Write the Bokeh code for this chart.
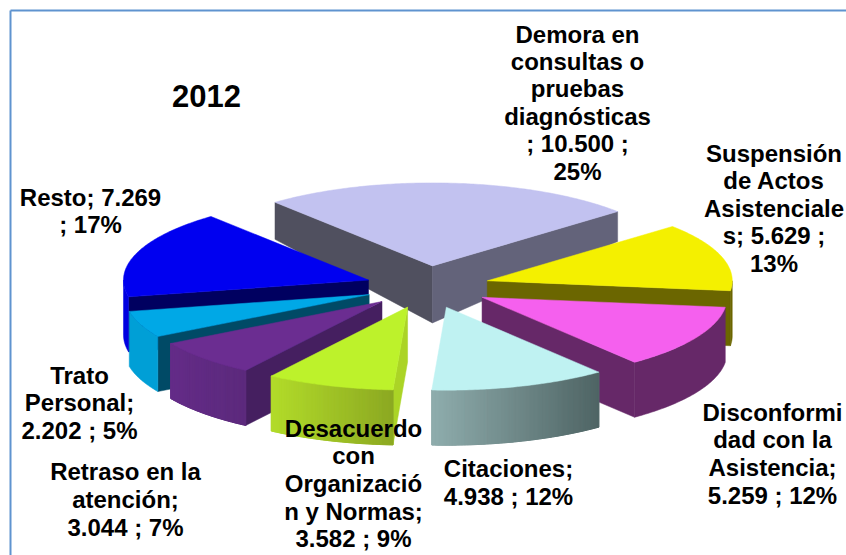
import math
from bokeh.plotting import figure
from bokeh.models import Range1d
from bokeh.embed import file_html
from bokeh.resources import INLINE
from bokeh.core.properties import value

# ---- data ----
title = "2012"
categories = ["Demora en consultas o pruebas diagnósticas", "Suspensión de Actos Asistenciales",
              "Disconformidad con la Asistencia", "Citaciones", "Desacuerdo con Organización y Normas",
              "Retraso en la atención", "Trato Personal", "Resto"]
values = [10500, 5629, 5259, 4938, 3582, 3044, 2202, 7269]
percents = [25, 13, 12, 12, 9, 7, 5, 17]

# wrapped label lines, as in the picture
label_lines = [
    ["Demora en", "consultas o", "pruebas", "diagnósticas", "; 10.500 ;", "25%"],
    ["Suspensión", "de Actos", "Asistenciale", "s; 5.629 ;", "13%"],
    ["Disconformi", "dad con la", "Asistencia;", "5.259 ; 12%"],
    ["Citaciones;", "4.938 ; 12%"],
    ["Desacuerdo", "con", "Organizació", "n y Normas;", "3.582 ; 9%"],
    ["Retraso en la", "atención;", "3.044 ; 7%"],
    ["Trato", "Personal;", "2.202 ; 5%"],
    ["Resto; 7.269", "; 17%"],
]
label_x = [577, 773.5, 772, 508, 353, 125, 79, 90]
label_y = [33.5, 152.5, 411.5, 467.5, 427.5, 470.5, 374.5, 196.5]
line_gap = [27.4, 27.5, 27.7, 28, 27.7, 28, 27.5, 27.5]

# ---- styles ----
top_colors = ["#C2C2F0", "#F4F000", "#F560EE", "#BFF2F2", "#BDF22B", "#6B2D91", "#00A8E6", "#0000F0"]
start_wall = ["#50505F", "#6B6600", "#662868", "#8FADAD", "#ABD426", "#451F60", "#004A66", "#000060"]
end_wall = ["#63637A", "#6B6600", "#662868", "#4F6464", "#8CA822", "#451F60", "#004A66", "#000060"]
arc_wall_left = ["#50505F", "#6B6600", "#662868", "#8FADAD", "#B2DC2A", "#642C88", "#009FD6", "#0000E0"]
arc_wall_right = ["#63637A", "#6B6600", "#662868", "#4F6464", "#8CA822", "#5C2A7C", "#009FD6", "#0000E0"]

# ---- geometry of the exploded 3D pie, in page pixels ----
cx, cy = 427.0, 286.5
a, b = 245.0, 83.0
explode = 0.255
height = 55.0
start_angle = -40.0
# back-facing corners of the largest slice look shorter
corner_height = {0: (37.0, 30.0)}
apex_height = {0: 57.0}

p = figure(width=846, height=555, output_backend="svg", toolbar_location=None,
           x_range=Range1d(0, 846), y_range=Range1d(555, 0),
           min_border=0, outline_line_color=None, background_fill_color="white",
           border_fill_color="white")
p.axis.visible = False
p.grid.visible = False


def mix(c1, c2, t):
    v1 = [int(c1[i:i + 2], 16) for i in (1, 3, 5)]
    v2 = [int(c2[i:i + 2], 16) for i in (1, 3, 5)]
    return "#%02X%02X%02X" % tuple(round(x + (y - x) * t) for x, y in zip(v1, v2))


def poly(xs, ys, color, lw=0.5):
    p.patch(xs, ys, fill_color=color, line_color=color, line_width=lw)


total = sum(values)
slices = []
angle = start_angle
for i, v in enumerate(values):
    sweep = v / total * 360.0
    slices.append((i, angle, angle + sweep))
    angle += sweep


def mid_cos(s):
    return math.cos(math.radians((s[1] + s[2]) / 2))


for i, t0, t1 in sorted(slices, key=lambda s: -mid_cos(s)):
    tm = math.radians((t0 + t1) / 2)
    ax = cx + a * explode * math.sin(tm)
    ay = cy - b * explode * math.cos(tm)

    def at(deg):
        r = math.radians(deg)
        return ax + a * math.sin(r), ay - b * math.cos(r)

    n = max(4, int((t1 - t0) * 1.5))
    degs = [t0 + (t1 - t0) * k / n for k in range(n + 1)]
    arc = [at(d) for d in degs]
    h_apex = apex_height.get(i, height)
    h_start, h_end = corner_height.get(i, (height, height))

    # cut faces that turn towards the viewer
    if math.sin(math.radians(t0)) < 0:
        x0, y0 = arc[0]
        poly([ax, x0, x0, ax], [ay, y0, y0 + h_start, ay + h_apex], start_wall[i])
    if math.sin(math.radians(t1)) > 0:
        x1, y1 = arc[-1]
        poly([ax, x1, x1, ax], [ay, y1, y1 + h_end, ay + h_apex], end_wall[i])

    # rim: a whole band first, then strips where its shade changes from left to right
    near = [d for d in degs if math.cos(math.radians(d)) <= 0]
    if math.cos(math.radians(t0)) * math.cos(math.radians(t1)) < 0:
        near = sorted(set(near + [90.0 if t0 < 90 < t1 else 270.0]))
    if len(near) > 1:
        pts = [at(d) for d in near]
        xs_near = [q[0] for q in pts]
        lo, hi = min(xs_near), max(xs_near)
        poly(xs_near + xs_near[::-1],
             [q[1] for q in pts] + [q[1] + height for q in pts[::-1]],
             mix(arc_wall_left[i], arc_wall_right[i], 0.5))
        if arc_wall_left[i] != arc_wall_right[i]:
            for (x0, y0), (x1, y1) in zip(pts[:-1], pts[1:]):
                f = (((x0 + x1) / 2) - lo) / max(hi - lo, 1)
                poly([x0, x1, x1, x0], [y0, y1, y1 + height, y0 + height],
                     mix(arc_wall_left[i], arc_wall_right[i], f), lw=1)

    # upper face
    poly([ax] + [q[0] for q in arc], [ay] + [q[1] for q in arc], top_colors[i])

# frame of the picture
frame = "#5F93CF"
p.line([10, 846], [10, 10], line_color=frame, line_width=2)
p.line([10, 10], [10, 555], line_color=frame, line_width=2)

# texts
font = value("Liberation Sans")
p.text([206], [95.5], text=[title], text_font=font, text_font_style="bold", text_font_size="31px",
       text_align="center", text_baseline="middle", text_color="black")
xs, ys, ts = [], [], []
for lines, lx, ly, gap in zip(label_lines, label_x, label_y, line_gap):
    for k, line in enumerate(lines):
        xs.append(lx)
        ys.append(ly + k * gap)
        ts.append(line)
p.text(xs, ys, text=ts, text_font=font, text_font_style="bold", text_font_size="24px",
       text_align="center", text_baseline="middle", text_color="black")

open("out.html", "w").write(file_html(p, INLINE))
